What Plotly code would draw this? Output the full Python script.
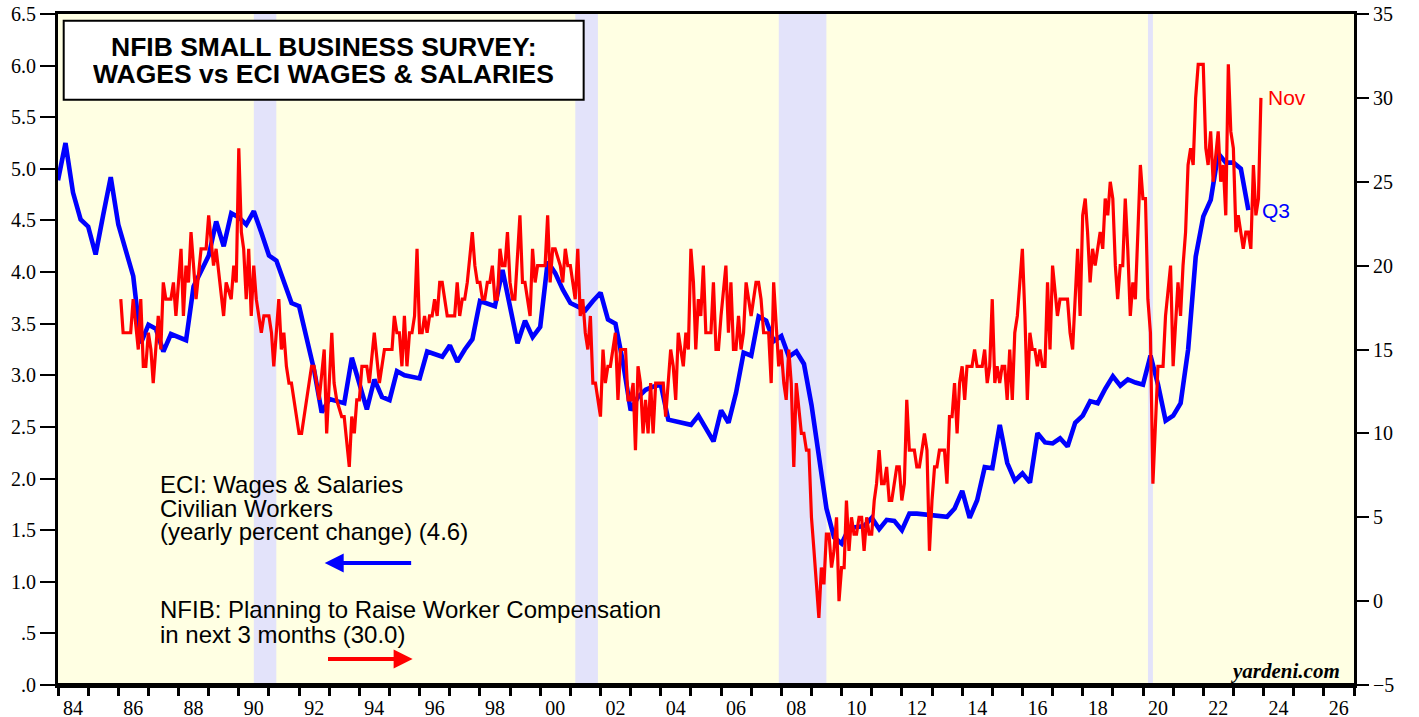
import pandas as pd
import plotly.graph_objects as go

# ECI: wages & salaries, civilian workers, yearly % change, quarterly from 1984 Q1
eci_start = "1984-01-01"
eci_values = [
    4.89, 5.25, 4.77, 4.51,  # 1984
    4.44, 4.17, 4.55, 4.92,  # 1985
    4.46, 4.21, 3.96, 3.31,  # 1986
    3.49, 3.45, 3.23, 3.40,  # 1987
    3.37, 3.34, 3.86, 4.02,  # 1988
    4.16, 4.49, 4.25, 4.57,  # 1989
    4.53, 4.46, 4.59, 4.38,  # 1990
    4.16, 4.11, 3.91, 3.70,  # 1991
    3.67, 3.38, 3.05, 2.64,  # 1992
    2.77, 2.75, 2.73, 3.17,  # 1993
    2.93, 2.67, 2.96, 2.79,  # 1994
    2.76, 3.04, 3.00, 2.99,  # 1995
    2.97, 3.23, 3.21, 3.18,  # 1996
    3.29, 3.13, 3.25, 3.35,  # 1997
    3.72, 3.70, 3.67, 4.02,  # 1998
    3.67, 3.31, 3.53, 3.37,  # 1999
    3.47, 4.10, 3.99, 3.83,  # 2000
    3.70, 3.67, 3.63, 3.72,  # 2001
    3.80, 3.54, 3.50, 3.12,  # 2002
    2.66, 2.79, 2.86, 2.89,  # 2003
    2.91, 2.57, 2.55, 2.54,  # 2004
    2.52, 2.61, 2.49, 2.36,  # 2005
    2.66, 2.54, 2.83, 3.22,  # 2006
    3.19, 3.57, 3.53, 3.33,  # 2007
    3.38, 3.18, 3.23, 3.11,  # 2008
    2.71, 2.23, 1.71, 1.43,  # 2009
    1.37, 1.52, 1.53, 1.54,  # 2010
    1.62, 1.51, 1.60, 1.59,  # 2011
    1.50, 1.66, 1.66, 1.65,  # 2012
    1.65, 1.64, 1.63, 1.71,  # 2013
    1.88, 1.62, 1.79, 2.11,  # 2014
    2.10, 2.52, 2.15, 1.98,  # 2015
    2.05, 1.96, 2.44, 2.35,  # 2016
    2.34, 2.39, 2.31, 2.54,  # 2017
    2.61, 2.75, 2.73, 2.87,  # 2018
    2.99, 2.90, 2.96, 2.93,  # 2019
    2.91, 3.19, 2.91, 2.56,  # 2020
    2.61, 2.73, 3.25, 4.15,  # 2021
    4.54, 4.70, 5.15, 5.06,  # 2022
    5.06, 5.00, 4.60,        # 2023
]

# NFIB: % planning to raise worker compensation in next 3 months (monthly readings)
nfib_months = [
    "1986-01", "1986-02", "1986-05", "1986-06", "1986-08", "1986-09", "1986-10", "1986-11", "1986-12",
    "1987-01", "1987-02", "1987-04", "1987-05", "1987-06", "1987-07", "1987-09", "1987-10", "1987-11",
    "1988-01", "1988-02", "1988-03", "1988-04", "1988-05", "1988-07", "1988-09", "1988-11", "1988-12",
    "1989-02", "1989-03", "1989-06", "1989-07", "1989-09", "1989-10", "1989-11", "1989-12",
    "1990-01", "1990-02", "1990-03", "1990-04", "1990-05", "1990-06", "1990-07", "1990-09", "1990-10", "1990-12",
    "1991-01", "1991-02", "1991-04", "1991-05", "1991-06", "1991-07", "1991-08", "1991-09", "1991-12",
    "1992-01", "1992-05", "1992-06", "1992-08", "1992-10", "1992-11",
    "1993-01", "1993-02", "1993-03", "1993-05", "1993-06", "1993-08", "1993-09", "1993-10", "1993-11", "1993-12",
    "1994-01", "1994-03", "1994-04", "1994-06", "1994-08", "1994-10", "1994-12",
    "1995-01", "1995-02", "1995-03", "1995-04", "1995-05", "1995-06", "1995-07", "1995-08", "1995-09", "1995-10", "1995-11", "1995-12",
    "1996-01", "1996-02", "1996-03", "1996-04", "1996-05", "1996-06", "1996-07", "1996-08", "1996-09", "1996-11",
    "1997-02", "1997-03", "1997-04", "1997-05", "1997-06", "1997-07", "1997-09", "1997-10", "1997-11", "1997-12",
    "1998-01", "1998-02", "1998-03", "1998-04", "1998-05", "1998-06", "1998-07", "1998-08", "1998-09", "1998-10", "1998-11", "1998-12",
    "1999-01", "1999-02", "1999-04", "1999-05", "1999-06", "1999-08", "1999-09", "1999-10", "1999-11",
    "2000-01", "2000-02", "2000-03", "2000-04", "2000-05", "2000-06", "2000-08", "2000-09", "2000-10", "2000-11", "2000-12",
    "2001-02", "2001-03", "2001-04", "2001-05", "2001-06", "2001-07", "2001-08", "2001-09", "2001-10", "2001-12",
    "2002-01", "2002-02", "2002-03", "2002-04", "2002-05", "2002-06", "2002-07", "2002-08", "2002-10", "2002-11", "2002-12",
    "2003-01", "2003-02", "2003-03", "2003-04", "2003-05", "2003-06", "2003-07", "2003-08", "2003-09", "2003-10",
    "2004-01", "2004-02", "2004-04", "2004-05", "2004-06", "2004-07", "2004-09", "2004-10", "2004-11", "2004-12",
    "2005-01", "2005-02", "2005-03", "2005-04", "2005-05", "2005-06", "2005-08", "2005-09", "2005-10", "2005-11", "2005-12",
    "2006-02", "2006-03", "2006-04", "2006-05", "2006-06", "2006-07", "2006-08", "2006-09", "2006-10", "2006-12",
    "2007-02", "2007-03", "2007-04", "2007-05", "2007-07", "2007-08", "2007-09", "2007-11", "2007-12",
    "2008-01", "2008-02", "2008-03", "2008-04", "2008-05", "2008-06", "2008-08", "2008-09", "2008-10", "2008-11", "2008-12",
    "2009-01", "2009-03", "2009-04", "2009-05", "2009-06", "2009-07", "2009-08", "2009-09", "2009-10", "2009-11", "2009-12",
    "2010-01", "2010-02", "2010-03", "2010-04", "2010-05", "2010-06", "2010-07", "2010-08", "2010-09", "2010-10", "2010-11", "2010-12",
    "2011-01", "2011-02", "2011-03", "2011-04", "2011-05", "2011-06", "2011-07", "2011-08", "2011-09", "2011-10", "2011-11", "2011-12",
    "2012-01", "2012-02", "2012-03", "2012-04", "2012-05", "2012-06", "2012-07", "2012-08", "2012-09", "2012-10", "2012-11", "2012-12",
    "2013-01", "2013-02", "2013-03", "2013-04", "2013-05", "2013-06", "2013-07", "2013-08", "2013-09", "2013-10", "2013-11", "2013-12",
    "2014-01", "2014-02", "2014-03", "2014-04", "2014-05", "2014-06", "2014-08", "2014-09", "2014-10", "2014-11", "2014-12",
    "2015-01", "2015-02", "2015-03", "2015-04", "2015-05", "2015-06", "2015-07", "2015-08", "2015-09", "2015-10", "2015-12",
    "2016-01", "2016-02", "2016-03", "2016-04", "2016-05", "2016-06", "2016-07", "2016-08", "2016-09", "2016-10", "2016-11", "2016-12",
    "2017-02", "2017-03", "2017-06", "2017-07", "2017-08", "2017-10", "2017-11", "2017-12",
    "2018-01", "2018-02", "2018-03", "2018-04", "2018-05", "2018-06", "2018-07", "2018-08", "2018-09", "2018-10", "2018-11", "2018-12",
    "2019-01", "2019-02", "2019-03", "2019-04", "2019-05", "2019-06", "2019-07", "2019-08", "2019-09", "2019-10", "2019-11", "2019-12",
    "2020-01", "2020-02", "2020-03", "2020-04", "2020-06", "2020-08", "2020-09", "2020-11", "2020-12",
    "2021-02", "2021-03", "2021-04", "2021-05", "2021-06", "2021-07", "2021-08", "2021-09", "2021-10", "2021-12",
    "2022-01", "2022-02", "2022-03", "2022-04", "2022-06", "2022-07", "2022-08", "2022-09", "2022-10", "2022-11", "2022-12",
    "2023-01", "2023-02", "2023-03", "2023-04", "2023-05", "2023-06", "2023-07", "2023-08", "2023-09", "2023-10", "2023-11",
]
nfib_values = [
    18, 16, 16, 18, 15, 18, 14, 14, 16,
    15, 13, 17, 15, 19, 18, 18, 19, 17,
    21, 17, 20, 19, 22, 18, 21, 21, 23,
    20, 21, 17, 19, 18, 20, 19, 27,
    22, 21, 18, 21, 17, 20, 18, 16, 17, 17,
    16, 14, 18, 15, 16, 14, 13, 13, 10,
    10, 14, 14, 12, 15, 10,
    16, 13, 12, 11, 11, 8, 11, 10, 12, 12,
    14, 14, 13, 16, 13, 15, 15,
    15, 17, 16, 16, 14, 17, 14, 16, 16, 17, 21, 16,
    16, 17, 16, 17, 17, 18, 17, 19, 19, 17,
    17, 19, 17, 18, 18, 19, 22, 20, 19, 19,
    18, 18, 19, 19, 20, 18, 18, 21, 20, 20, 22, 19,
    18, 18, 23, 19, 19, 17, 21, 19, 20,
    20, 20, 23, 19, 21, 21, 20, 19, 21, 20, 20,
    18, 21, 17, 18, 16, 15, 17, 13, 13, 11,
    15, 13, 14, 14, 15, 16, 12, 15, 15, 12, 12,
    13, 9, 14, 13, 10, 12, 10, 13, 10, 13,
    13, 11, 15, 14, 12, 16, 14, 16, 15, 21,
    19, 15, 18, 17, 20, 16, 16, 19, 15, 15, 17,
    20, 16, 19, 15, 15, 17, 15, 16, 19, 17,
    19, 19, 18, 16, 16, 13, 19, 14, 15,
    13, 12, 15, 13, 8, 13, 10, 10, 9, 9, 5,
    3, -1, 2, 1, 4, 4, 2, 3, 5, 0, 2,
    2, 6, 3, 5, 4, 4, 5, 5, 3, 5, 4, 4,
    6, 7, 9, 7, 7, 8, 6, 6, 7, 8, 8, 6,
    7, 12, 9, 9, 9, 8, 8, 9, 10, 9, 3, 6,
    8, 8, 9, 9, 9, 7, 11, 11, 13, 10, 13, 14,
    12, 14, 14, 14, 15, 14, 14, 15, 13, 14, 18,
    13, 14, 13, 14, 14, 12, 15, 12, 16, 17, 21,
    17, 12, 16, 15, 15, 14, 15, 14, 14, 19, 15, 20,
    17, 18, 18, 16, 15, 21, 17, 23,
    24, 22, 19, 21, 20, 21, 22, 21, 24, 23, 25, 24,
    20, 18, 20, 20, 24, 21, 17, 19, 18, 22, 26, 24,
    24, 18, 16, 7, 14, 14, 17, 20, 14,
    19, 17, 20, 22, 26, 27, 26, 30, 32, 32,
    27, 26, 28, 25, 28, 25, 26, 23, 32, 28, 27,
    22, 23, 22, 21, 22, 22, 21, 26, 23, 24, 30,
]

recession_starts = ["1990-07-01", "2001-03-01", "2007-12-01", "2020-03-01"]
recession_ends = ["1991-03-31", "2001-11-30", "2009-06-30", "2020-04-30"]

year_labels = ["84", "86", "88", "90", "92", "94", "96", "98", "00", "02", "04",
               "06", "08", "10", "12", "14", "16", "18", "20", "22", "24", "26"]
left_ticks = [0, 0.5, 1, 1.5, 2, 2.5, 3, 3.5, 4, 4.5, 5, 5.5, 6, 6.5]
left_labels = [".0", ".5", "1.0", "1.5", "2.0", "2.5", "3.0", "3.5",
               "4.0", "4.5", "5.0", "5.5", "6.0", "6.5"]

eci_dates = pd.date_range(eci_start, periods=len(eci_values), freq="QS")
nfib_dates = pd.to_datetime(nfib_months) + pd.offsets.MonthEnd(0)
label_dates = [pd.Timestamp(1984 + 2 * i, 7, 1) for i in range(len(year_labels))]
year_starts = pd.date_range("1984-01-01", "2027-01-01", freq="YS")

fig = go.Figure()
fig.add_trace(go.Scatter(x=eci_dates, y=eci_values, mode="lines",
                         line=dict(color="#0000FF", width=4.6), yaxis="y"))
fig.add_trace(go.Scatter(x=nfib_dates, y=nfib_values, mode="lines",
                         line=dict(color="#FF0000", width=3.2), yaxis="y2"))

shapes = []
for s, e in zip(recession_starts, recession_ends):
    shapes.append(dict(type="rect", xref="x", yref="paper", x0=s, x1=e, y0=0, y1=1,
                       fillcolor="#E3E3FA", line=dict(width=0), layer="below"))
# title box
shapes.append(dict(type="rect", xref="paper", yref="paper", x0=0.0044, x1=0.4056,
                   y0=0.8722, y1=0.990, fillcolor="white", line=dict(color="black", width=2)))
# heavier bottom axis
shapes.append(dict(type="line", xref="paper", yref="paper", x0=0, x1=1, y0=0, y1=0,
                   line=dict(color="black", width=4)))

sans = "Liberation Sans, Arial, sans-serif"
annotations = [
    dict(x=0.205, y=0.9505, text="<b>NFIB SMALL BUSINESS SURVEY:</b>"),
    dict(x=0.205, y=0.910, text="<b>WAGES vs ECI WAGES & SALARIES</b>"),
]
for a in annotations:
    a.update(xref="paper", yref="paper", showarrow=False, xanchor="center", yanchor="middle",
             height=26, font=dict(family=sans, size=26.5, color="black"))

legend_lines = [
    ("ECI: Wages & Salaries", 1.938),
    ("Civilian Workers", 1.710),
    ("(yearly percent change) (4.6)", 1.483),
    ("NFIB: Planning to Raise Worker Compensation", 0.727),
    ("in next 3 months (30.0)", 0.494),
]
for txt, yv in legend_lines:
    annotations.append(dict(x="1987-04-25", y=yv, xref="x", yref="y", text=txt, showarrow=False,
                            xanchor="left", yanchor="middle",
                            font=dict(family=sans, size=24, color="black")))

# legend arrows
annotations.append(dict(x="1992-11-06", y=1.182, ax="1995-10-08", ay=1.182, xref="x", yref="y",
                        axref="x", ayref="y", text="", showarrow=True, arrowhead=2,
                        arrowsize=0.95, arrowwidth=4, arrowcolor="#0000FF"))
annotations.append(dict(x="1995-10-08", y=0.252, ax="1992-11-28", ay=0.252, xref="x", yref="y",
                        axref="x", ayref="y", text="", showarrow=True, arrowhead=2,
                        arrowsize=0.95, arrowwidth=4, arrowcolor="#FF0000"))

# end labels
annotations.append(dict(x=nfib_dates[-1], y=nfib_values[-1], xref="x", yref="y2", text="Nov",
                        showarrow=False, xanchor="left", yanchor="middle", xshift=5,
                        font=dict(family=sans, size=21, color="#FF0000")))
annotations.append(dict(x=eci_dates[-1], y=eci_values[-1], xref="x", yref="y", text="Q3",
                        showarrow=False, xanchor="left", yanchor="middle", xshift=12,
                        font=dict(family=sans, size=21, color="#0000FF")))
annotations.append(dict(x=0.9905, y=0.0209, xref="paper", yref="paper", text="<b><i>yardeni.com</i></b>",
                        showarrow=False, xanchor="right", yanchor="middle",
                        font=dict(family="Liberation Serif, Times New Roman, serif", size=21, color="black")))

fig.update_layout(
    template="none",
    width=1419, height=717,
    margin=dict(l=58, r=65, t=14, b=32, pad=0),
    paper_bgcolor="white", plot_bgcolor="#FFFFE3",
    showlegend=False,
    font=dict(family="Liberation Serif, Times New Roman, serif", size=20, color="black"),
    shapes=shapes, annotations=annotations,
    xaxis=dict(type="date", range=["1984-01-01", "2027-01-01"], automargin=False,
               tickmode="array", tickvals=label_dates, ticktext=year_labels,
               ticks="outside", ticklen=3, tickcolor="rgba(0,0,0,0)",
               minor=dict(tickmode="array", tickvals=year_starts, ticks="outside",
                          ticklen=8, tickwidth=2.5, tickcolor="black"),
               showgrid=False, zeroline=False, showline=True, linewidth=3,
               linecolor="black", mirror=True),
    yaxis=dict(range=[0, 6.5], automargin=False, tickmode="array", tickvals=left_ticks,
               ticktext=left_labels, ticks="outside", ticklen=15, tickwidth=2,
               tickcolor="black", showgrid=False, zeroline=False, showline=True,
               linewidth=3, linecolor="black", mirror=True),
    yaxis2=dict(range=[-5, 35], automargin=False, overlaying="y", side="right",
                tickmode="linear", tick0=0, dtick=5, ticks="outside", ticklen=14,
                tickwidth=2, tickcolor="black", showgrid=False, zeroline=False,
                showline=False),
)

fig.write_html("out.html", config={"displayModeBar": False},
               post_script="document.body.style.margin='0';")
